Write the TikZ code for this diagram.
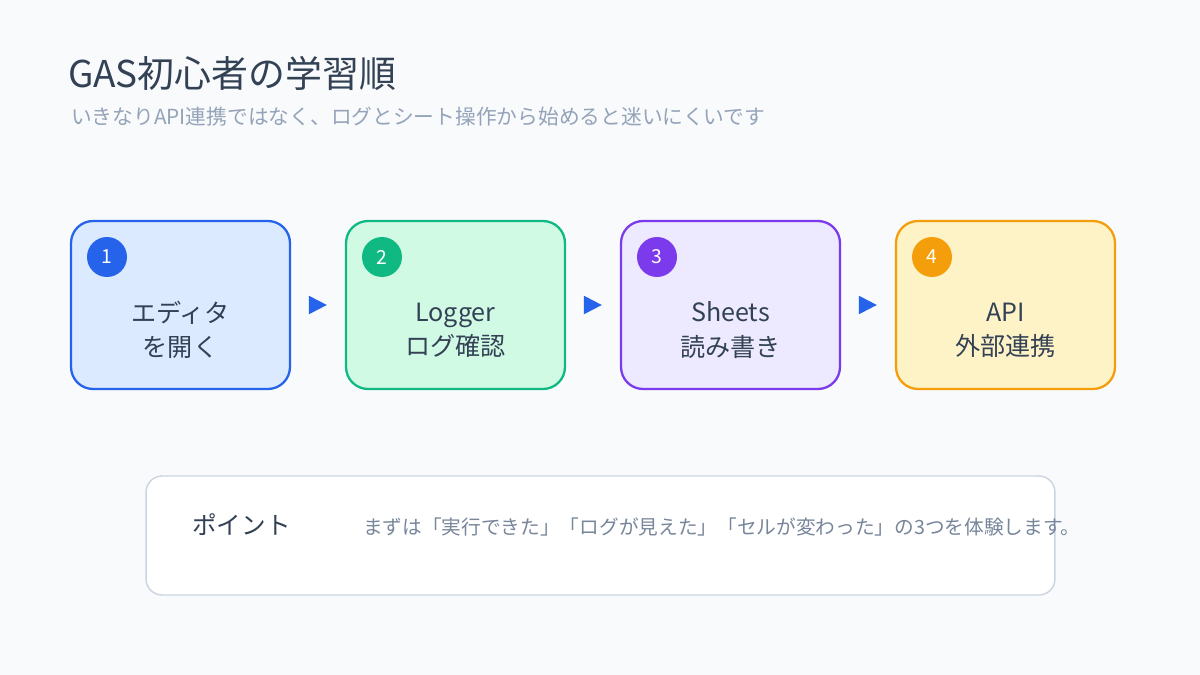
\documentclass[tikz,border=0pt]{standalone}
\usepackage{fontspec}
\setmainfont{Noto Sans CJK JP}
\usepackage{xcolor}
\usetikzlibrary{positioning,arrows.meta}
\definecolor{bg}{HTML}{F8FAFC}
\definecolor{ink}{HTML}{334155}
\definecolor{soft}{HTML}{94A3B8}
\definecolor{cblue}{HTML}{2563EB}\definecolor{fblue}{HTML}{DBEAFE}
\definecolor{cgreen}{HTML}{10B981}\definecolor{fgreen}{HTML}{D1FAE5}
\definecolor{cpurple}{HTML}{7C3AED}\definecolor{fpurple}{HTML}{EDE9FE}
\definecolor{corange}{HTML}{F59E0B}\definecolor{forange}{HTML}{FEF3C7}
\definecolor{edge}{HTML}{CBD5E1}

\begin{document}
\begin{tikzpicture}[x=0.02cm, y=-0.02cm,
    stepbox/.style={draw, line width=1.3pt, rounded corners=0.44cm, minimum width=4.38cm,
      minimum height=3.36cm},
    steptext/.style={align=center, text=ink, font=\fontsize{14.3}{19.5}\selectfont},
    badge/.style={circle, minimum size=0.8cm, inner sep=0pt, text=white, font=\fontsize{11}{11}\selectfont},
    arr/.style={-{Triangle[length=0.36cm, width=0.36cm]}, cblue, line width=1.2pt,
      shorten <=0.4cm, shorten >=0.36cm}]
    \fill[bg] (0,0) rectangle (1200,675);
    \node[anchor=base west, text=ink, font=\fontsize{21}{24}\selectfont] (title) at (62,88) {GAS初心者の学習順};
    \node[anchor=base west, text=soft, font=\fontsize{11.8}{13}\selectfont] (sub) at (65,125) {いきなりAPI連携ではなく、ログとシート操作から始めると迷いにくいです};

    \node[stepbox, draw=cblue, fill=fblue] (s1) at (180.5,305) {};
    \node[stepbox, draw=cgreen, fill=fgreen] (s2) at (455.5,305) {};
    \node[stepbox, draw=cpurple, fill=fpurple] (s3) at (730.5,305) {};
    \node[stepbox, draw=corange, fill=forange] (s4) at (1005.5,305) {};

    \node[steptext] (t1) at ([yshift=-0.5cm]s1.center) {エディタ\\を開く};
    \node[steptext] (t2) at ([yshift=-0.5cm]s2.center) {Logger\\ログ確認};
    \node[steptext] (t3) at ([yshift=-0.5cm]s3.center) {Sheets\\読み書き};
    \node[steptext] (t4) at ([yshift=-0.5cm]s4.center) {API\\外部連携};

    \node[badge, fill=cblue] (n1) at (107,257) {1};
    \node[badge, fill=cgreen] (n2) at (382,257) {2};
    \node[badge, fill=cpurple] (n3) at (657,257) {3};
    \node[badge, fill=corange] (n4) at (932,257) {4};

    \draw[arr] (s1) -- (s2);
    \draw[arr] (s2) -- (s3);
    \draw[arr] (s3) -- (s4);

    \node[draw=edge, fill=white, line width=0.8pt, rounded corners=0.32cm,
      minimum width=18.18cm, minimum height=2.38cm] (tip) at (600.5,535.5) {};
    \node[anchor=west, text=ink, font=\fontsize{14}{16}\selectfont] (tiphead) at (186,525) {ポイント};
    \node[anchor=west, text=soft!70!ink, font=\fontsize{11.2}{13}\selectfont] (tiptext) at (357,527) {まずは「実行できた」「ログが見えた」「セルが変わった」の3つを体験します。};
\end{tikzpicture}
\end{document}
